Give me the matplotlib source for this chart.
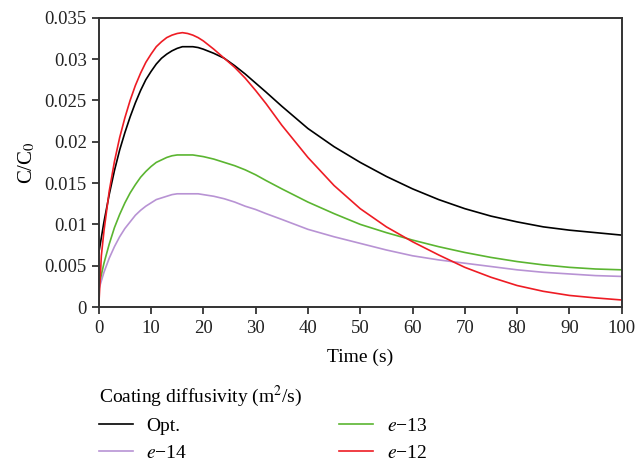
import numpy as np
import matplotlib
matplotlib.use("Agg")
import matplotlib.pyplot as plt
from matplotlib.ticker import FormatStrFormatter

plt.rcParams['font.family'] = ['Liberation Serif', 'DejaVu Serif']
plt.rcParams['mathtext.fontset'] = 'stix'

# time (s) and C/C0 for each coating diffusivity
t = [0, 1, 2, 3, 4, 5, 6, 7, 8, 9, 10, 11, 12, 13, 14, 15, 16, 17, 18, 19, 20,
     22, 24, 26, 28, 30, 32, 35, 40, 45, 50, 55, 60, 65, 70, 75, 80, 85, 90, 95, 100]

c_opt = [0.0065, 0.0103, 0.0136, 0.0165, 0.0190, 0.0211, 0.0230, 0.0247, 0.0262,
         0.0275, 0.0285, 0.0294, 0.0301, 0.0306, 0.0310, 0.0313, 0.0315, 0.0315,
         0.0315, 0.0314, 0.0312, 0.0307, 0.0301, 0.0292, 0.0282, 0.0271, 0.0260,
         0.0243, 0.0216, 0.0194, 0.0175, 0.0158, 0.0143, 0.0130, 0.0119, 0.0110,
         0.0103, 0.0097, 0.0093, 0.0090, 0.0087]

t_e12 = [0, 0.5] + t[1:]
c_e12 = [0.0, 0.0062, 0.0092, 0.0140, 0.0176, 0.0205, 0.0229, 0.0250, 0.0268,
         0.0283, 0.0296, 0.0306, 0.0315, 0.0321, 0.0326, 0.0329, 0.0331, 0.0332,
         0.0331, 0.0329, 0.0326, 0.0322, 0.0312, 0.0301, 0.0290, 0.0277, 0.0262,
         0.0246, 0.0220, 0.0181, 0.0147, 0.0119, 0.0097, 0.0079, 0.0063, 0.0048,
         0.0036, 0.0026, 0.0019, 0.0014, 0.0011, 0.00085]

c_e13 = [0.0025, 0.0053, 0.0076, 0.0096, 0.0112, 0.0126, 0.0138, 0.0148, 0.0157,
         0.0164, 0.0170, 0.0175, 0.0178, 0.0181, 0.0183, 0.0184, 0.0184, 0.0184,
         0.0184, 0.0183, 0.0182, 0.0179, 0.0175, 0.0171, 0.0166, 0.0160, 0.0153,
         0.0143, 0.0127, 0.0113, 0.0100, 0.0090, 0.0081, 0.0073, 0.0066, 0.0060,
         0.0055, 0.0051, 0.0048, 0.0046, 0.0045]

c_e14 = [0.0021, 0.0042, 0.0059, 0.0073, 0.0085, 0.0095, 0.0103, 0.0111, 0.0117,
         0.0122, 0.0126, 0.0130, 0.0132, 0.0134, 0.0136, 0.0137, 0.0137, 0.0137,
         0.0137, 0.0137, 0.0136, 0.0134, 0.0131, 0.0127, 0.0122, 0.0118, 0.0113,
         0.0106, 0.0094, 0.0085, 0.0077, 0.0069, 0.0062, 0.0057, 0.0053, 0.0049,
         0.0045, 0.0042, 0.0040, 0.0038, 0.0037]

fig = plt.figure(figsize=(6.37, 4.68), dpi=100)
ax = fig.add_axes([0.155, 0.344, 0.821, 0.618])

lw = 1.2
l_opt, = ax.plot(t, c_opt, color='black', linewidth=lw, label='Opt.')
l_e14, = ax.plot(t, c_e14, color='#b893d4', linewidth=lw, label='$e$\u221214')
l_e13, = ax.plot(t, c_e13, color='#5bb531', linewidth=lw, label='$e$\u221213')
l_e12, = ax.plot(t_e12, c_e12, color='#ee1c24', linewidth=lw, label='$e$\u221212')

ax.set_xlim(0, 100)
ax.set_ylim(0, 0.035)
ax.set_xticks(np.arange(0, 101, 10))
ax.set_yticks(np.arange(0, 0.0351, 0.005))
ax.yaxis.set_major_formatter(FormatStrFormatter('%g'))
ax.tick_params(direction='out', length=5, width=1.2, labelsize=13.5, colors='#222222')
ax.tick_params(axis='x', pad=4)
for s in ax.spines.values():
    s.set_linewidth(1.4)
    s.set_color('#333333')

ax.set_xlabel('Time (s)', fontsize=14, labelpad=9)
ax.set_ylabel('C/C$_0$', fontsize=15, labelpad=5)

leg = ax.legend(handles=[l_opt, l_e14, l_e13, l_e12], ncol=2, frameon=False,
                title='Coating diffusivity (m$^2$/s)', title_fontsize=14, fontsize=14,
                loc='upper left', bbox_to_anchor=(0.0, -0.265),
                borderaxespad=0, borderpad=0, handlelength=1.75, handletextpad=0.7,
                columnspacing=7.8, labelspacing=0.45)
leg._legend_box.align = 'left'

fig.savefig('out.png', dpi=100)
